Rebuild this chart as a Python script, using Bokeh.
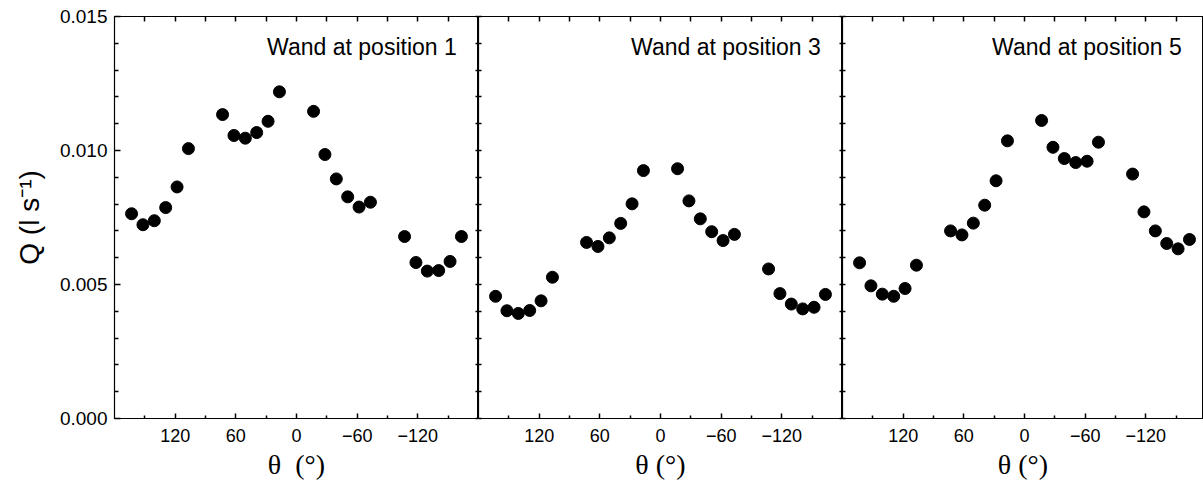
from bokeh.plotting import figure
from bokeh.layouts import row
from bokeh.models import Range1d, LinearAxis, FixedTicker, PrintfTickFormatter, Label
from bokeh.embed import file_html
from bokeh.resources import INLINE

# ---- data ----
theta = [163.125, 151.875, 140.625, 129.375, 118.125, 106.875,
         73.125, 61.875, 50.625, 39.375, 28.125, 16.875,
         -16.875, -28.125, -39.375, -50.625, -61.875, -73.125,
         -106.875, -118.125, -129.375, -140.625, -151.875, -163.125]

q_pos1 = [0.00764, 0.00723, 0.00738, 0.00787, 0.00864, 0.01007,
          0.01134, 0.01056, 0.01046, 0.01067, 0.01109, 0.01219,
          0.01146, 0.00985, 0.00894, 0.00827, 0.00789, 0.00807,
          0.00679, 0.00582, 0.00550, 0.00552, 0.00586, 0.00679]

q_pos3 = [0.00456, 0.00402, 0.00392, 0.00403, 0.00439, 0.00527,
          0.00657, 0.00642, 0.00674, 0.00728, 0.00801, 0.00925,
          0.00932, 0.00812, 0.00745, 0.00697, 0.00664, 0.00687,
          0.00558, 0.00466, 0.00427, 0.00409, 0.00415, 0.00463]

q_pos5 = [0.00581, 0.00495, 0.00464, 0.00456, 0.00485, 0.00572,
          0.00700, 0.00685, 0.00729, 0.00796, 0.00887, 0.01036,
          0.01112, 0.01012, 0.00970, 0.00955, 0.00960, 0.01031,
          0.00912, 0.00771, 0.00700, 0.00653, 0.00633, 0.00668]

panel_titles = ["Wand at position 1", "Wand at position 3", "Wand at position 5"]
x_labels = ["\u03b8\u00a0\u00a0(\u00b0)", "\u03b8 (\u00b0)", "\u03b8 (\u00b0)"]
y_label = "Q (l s\u207b\u00b9)"

x_major = [120, 60, 0, -60, -120]
x_minor = [150, 90, 30, -30, -90, -150]
y_major = [0.0, 0.005, 0.010, 0.015]
y_minor = [0.001, 0.002, 0.003, 0.004, 0.006, 0.007, 0.008, 0.009,
           0.011, 0.012, 0.013, 0.014]

SANS = "Liberation Sans"
SERIF = "Liberation Serif"


def style_axis(ax):
    ax.axis_line_color = "black"
    ax.axis_line_width = 1.2
    ax.major_tick_line_color = "black"
    ax.minor_tick_line_color = "black"
    ax.major_tick_line_width = 1.5
    ax.minor_tick_line_width = 1.5
    ax.major_label_text_color = "black"
    ax.major_label_text_font = SANS
    ax.major_label_text_font_size = "19px"
    ax.major_tick_out = 0
    ax.minor_tick_out = 0


def plain_axis(ticks_all, tick_len):
    ax = LinearAxis(ticker=FixedTicker(ticks=[], minor_ticks=ticks_all))
    style_axis(ax)
    ax.minor_tick_in = tick_len
    ax.major_tick_in = tick_len
    ax.major_label_standoff = 0
    return ax


def make_panel(q, title, xlabel, first, last):
    fw = 361 if last else 364
    x_end = -177 if last else -180
    p = figure(frame_width=fw, frame_height=402,
               x_range=Range1d(180, x_end), y_range=Range1d(0, 0.015),
               output_backend="svg", toolbar_location=None,
               x_axis_location=None, y_axis_location=None,
               min_border_left=114 if first else 0, min_border_right=0,
               min_border_top=16, min_border_bottom=68,
               background_fill_color="white", border_fill_color="white",
               outline_line_color="black", outline_line_width=1.0)
    p.xgrid.visible = False
    p.ygrid.visible = False

    # bottom axis
    xb = LinearAxis(ticker=FixedTicker(ticks=x_major, minor_ticks=x_minor))
    style_axis(xb)
    xb.major_label_text_font_size = "18px"
    xb.major_tick_in = 5
    xb.minor_tick_in = 3
    xb.major_label_standoff = 10
    xb.axis_label = xlabel
    xb.axis_label_text_font = SERIF
    xb.axis_label_text_font_style = "normal"
    xb.axis_label_text_font_size = "28px"
    xb.axis_label_text_color = "black"
    xb.axis_label_standoff = 4
    p.add_layout(xb, "below")

    # top axis
    p.add_layout(plain_axis(x_major + x_minor, 5), "above")

    # left axis
    if first:
        yl = LinearAxis(ticker=FixedTicker(ticks=y_major, minor_ticks=y_minor),
                        formatter=PrintfTickFormatter(format="%.3f"))
        style_axis(yl)
        yl.major_tick_in = 6
        yl.minor_tick_in = 4
        yl.major_label_standoff = 7
        yl.axis_label = y_label
        yl.axis_label_text_font = SANS
        yl.axis_label_text_font_style = "normal"
        yl.axis_label_text_font_size = "28px"
        yl.axis_label_text_color = "black"
        yl.axis_label_standoff = 12
        p.add_layout(yl, "left")
    else:
        p.add_layout(plain_axis(y_major + y_minor, 3), "left")

    # right axis (shared borders)
    if not last:
        p.add_layout(plain_axis(y_major + y_minor, 3), "right")

    p.scatter(theta, q, size=12, color="black")

    p.add_layout(Label(x=x_end + 21.5, y=0.01385, text=title,
                       text_align="right", text_baseline="alphabetic",
                       text_font=SANS, text_font_size="23px",
                       text_color="black"))
    return p


p1 = make_panel(q_pos1, panel_titles[0], x_labels[0], True, False)
p2 = make_panel(q_pos3, panel_titles[1], x_labels[1], False, False)
p3 = make_panel(q_pos5, panel_titles[2], x_labels[2], False, True)

p = row(p1, p2, p3, spacing=0)

open("out.html", "w").write(file_html(p, INLINE))
